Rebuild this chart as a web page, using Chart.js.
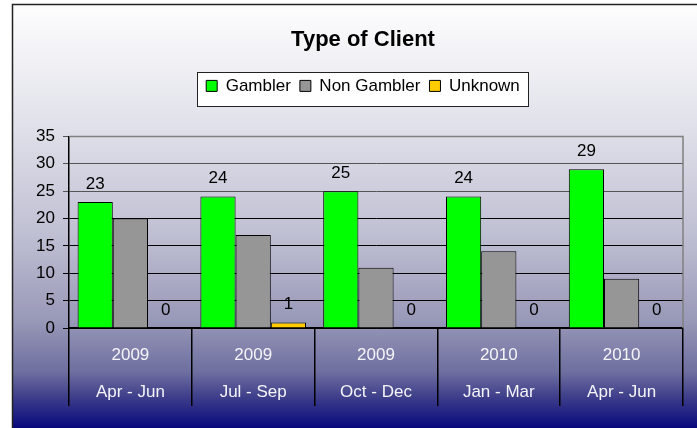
<!DOCTYPE html>
<html>
<head>
<meta charset="utf-8">
<script src="https://cdn.jsdelivr.net/npm/chart.js@4/dist/chart.umd.min.js"></script>
<style>
  html, body { margin: 0; padding: 0; background: #fff; }
  #wrap { width: 697px; height: 428px; }
</style>
</head>
<body>
<div id="wrap"><canvas id="chart" width="697" height="428"></canvas></div>
<script>
// data
var years = ['2009', '2009', '2009', '2010', '2010'];
var periods = ['Apr - Jun', 'Jul - Sep', 'Oct - Dec', 'Jan - Mar', 'Apr - Jun'];
var gambler = [23, 24, 25, 24, 29];
var nonGambler = [20, 17, 11, 14, 9];
var unknown = [0, 1, 0, 0, 0];
var yTicks = [0, 5, 10, 15, 20, 25, 30, 35];

var FONT = "'Liberation Sans', Arial, sans-serif";

// gradient backdrop, outer frame and legend box
var backdrop = {
    id: 'backdrop',
    afterInit: function(chart) {
        // leave room under the legend like the original
        var lg = chart.legend;
        var fit = lg.fit;
        lg.fit = function() {
            fit.call(this);
            this.height += 32;
        };
    },
    afterLayout: function(chart) {
        // y scale is kept narrow so the title centres like the original,
        // widen its clip area so the tick labels are not cut
        chart.scales.y.left = 14;
    },
    beforeDraw: function(chart) {
        var ctx = chart.ctx, h = chart.height, w = chart.width;
        ctx.save();
        var g = ctx.createLinearGradient(0, 0, 0, h);
        g.addColorStop(0, '#ffffff');
        g.addColorStop(0.3, '#e0e0ea');
        g.addColorStop(0.55, '#bfbfd3');
        g.addColorStop(0.75, '#9898b8');
        g.addColorStop(0.87, '#6e6ea0');
        g.addColorStop(0.93, '#3c3c8a');
        g.addColorStop(1, '#08087e');
        ctx.fillStyle = g;
        ctx.fillRect(0, 0, w, h);
        ctx.fillStyle = '#ffffff';
        ctx.fillRect(0, 0, 12, h);
        ctx.fillRect(0, 0, w, 4);
        ctx.strokeStyle = '#222';
        ctx.lineWidth = 1.5;
        ctx.beginPath();
        ctx.moveTo(12.5, h + 2);
        ctx.lineTo(12.5, 4.5);
        ctx.lineTo(w + 2, 4.5);
        ctx.stroke();

        // legend frame
        var lg = chart.legend;
        var pad = lg.options.labels.padding;
        var lw = lg.lineWidths[0];
        var x0 = (lg.left + pad + lg.right - lw) / 2;
        var x1 = x0 + lw - pad;
        var y0 = lg.top + pad;
        var bx = Math.round(x0 - 9), by = Math.round(y0 - 5), bw = Math.round(x1 - x0 + 17);
        ctx.fillStyle = '#ffffff';
        ctx.strokeStyle = '#222';
        ctx.lineWidth = 1;
        ctx.fillRect(bx, by, bw, 34);
        ctx.strokeRect(bx + 0.5, by + 0.5, bw, 34);
        ctx.restore();
    },
    beforeDatasetsDraw: function(chart) {
        var a = chart.chartArea, ctx = chart.ctx;
        ctx.save();
        ctx.strokeStyle = '#808080';
        ctx.lineWidth = 1.5;
        ctx.beginPath();
        ctx.moveTo(a.left, a.top);
        ctx.lineTo(a.right, a.top);
        ctx.lineTo(a.right, a.bottom);
        ctx.stroke();
        ctx.restore();
    }
};

// values over the Gambler and Unknown bars
var barValues = {
    id: 'barValues',
    afterDatasetsDraw: function(chart) {
        var ctx = chart.ctx;
        ctx.save();
        ctx.font = '17px ' + FONT;
        ctx.fillStyle = '#000';
        ctx.textAlign = 'center';
        ctx.textBaseline = 'middle';
        [0, 2].forEach(function(i) {
            var meta = chart.getDatasetMeta(i);
            var vals = chart.data.datasets[i].data;
            meta.data.forEach(function(bar, j) {
                ctx.fillText(String(vals[j]), bar.x, bar.y - 18);
            });
        });
        ctx.restore();
    }
};

var labels = years.map(function(y, i) { return [y, periods[i]]; });

new Chart(document.getElementById('chart'), {
    type: 'bar',
    data: {
        labels: labels,
        datasets: [
            { label: 'Gambler', data: gambler, backgroundColor: '#00ff00', borderColor: '#000', borderWidth: 1 },
            { label: 'Non Gambler', data: nonGambler, backgroundColor: '#969696', borderColor: '#000', borderWidth: 1 },
            { label: 'Unknown', data: unknown, backgroundColor: '#ffcc00', borderColor: '#000', borderWidth: 1 }
        ]
    },
    options: {
        responsive: false,
        animation: false,
        devicePixelRatio: 1,
        layout: { padding: { left: 43, right: 14, top: 0, bottom: 0 } },
        datasets: {
            bar: { categoryPercentage: 0.86, barPercentage: 1.0 }
        },
        plugins: {
            tooltip: { enabled: false },
            title: {
                display: true,
                text: 'Type of Client',
                color: '#000',
                font: { family: FONT, size: 22, weight: 'bold', lineHeight: 1.2 },
                padding: { top: 27, bottom: 15 }
            },
            legend: {
                display: true,
                position: 'top',
                labels: {
                    color: '#000',
                    font: { family: FONT, size: 17 },
                    boxWidth: 11,
                    boxHeight: 11,
                    padding: 9
                }
            }
        },
        scales: {
            x: {
                afterFit: function(s) { s.height = 100; },
                grid: {
                    offset: true,
                    drawOnChartArea: false,
                    drawTicks: true,
                    tickLength: 78,
                    color: '#000',
                    lineWidth: 1.5
                },
                border: { display: true, color: '#000', width: 1.5 },
                ticks: {
                    color: '#f4f4f8',
                    font: { family: FONT, size: 17, lineHeight: 2.18 },
                    padding: -69,
                    maxRotation: 0,
                    autoSkip: false
                }
            },
            y: {
                min: 0,
                max: 35,
                afterFit: function(s) { s.width = 26; },
                afterBuildTicks: function(s) {
                    s.ticks = yTicks.map(function(v) { return { value: v }; });
                },
                grid: {
                    color: function(c) { return c.tick && c.tick.value >= 25 ? '#555' : '#000'; },
                    lineWidth: 1,
                    tickLength: 6
                },
                border: { display: true, color: '#000', width: 1.5 },
                ticks: {
                    color: '#000',
                    font: { family: FONT, size: 17 },
                    padding: 8
                }
            }
        }
    },
    plugins: [backdrop, barValues]
});
</script>
</body>
</html>
